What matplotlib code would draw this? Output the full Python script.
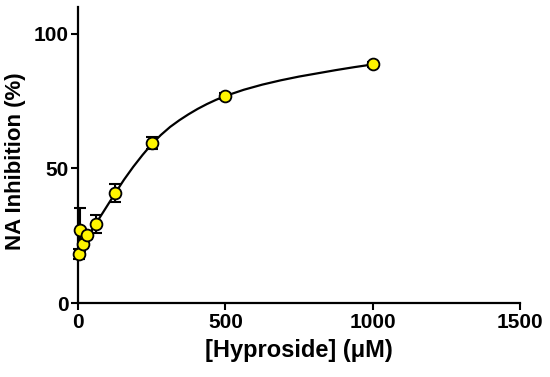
import numpy as np
import matplotlib
matplotlib.use("Agg")
import matplotlib.pyplot as plt

plt.rcParams["font.family"] = ["Liberation Sans", "DejaVu Sans"]
plt.rcParams["font.weight"] = "bold"

# measured points (concentration in uM, inhibition %, SEM)
conc = [3.9, 7.8, 15.6, 31.25, 62.5, 125, 250, 500, 1000]
inhib = [18.2, 27.3, 22.1, 25.2, 29.4, 40.9, 59.3, 76.9, 88.6]
sem = [2.0, 8.0, 1.5, 1.5, 3.3, 3.3, 2.2, 1.0, 0.8]

# fitted curve
fit_x = [3.9, 15.6, 31.25, 46.9, 62.5, 93.75, 125, 156, 187.5, 219, 250,
         281, 312.5, 344, 375, 406, 437.5, 469, 500, 562.5, 625, 687.5,
         750, 812.5, 875, 937.5, 1000]
fit_y = [19.0, 21.5, 24.5, 27.1, 29.8, 35.2, 40.6, 45.8, 50.6, 55.0, 59.0,
         62.4, 65.4, 67.9, 70.1, 72.1, 73.9, 75.5, 76.9, 79.2, 81.1, 82.7,
         84.1, 85.3, 86.5, 87.6, 88.6]

x_ticks = [0, 500, 1000, 1500]
y_ticks = [0, 50, 100]

fig = plt.figure(figsize=(5.5, 3.77), dpi=100)
ax = fig.add_axes([0.1418, 0.196, 0.804, 0.786])

ax.plot(fit_x, fit_y, color="black", lw=1.6, zorder=2,
        solid_joinstyle="round")
ax.errorbar(conc, inhib, yerr=sem, fmt="none", ecolor="black",
            elinewidth=1.5, capsize=4.5, capthick=1.5, zorder=3, clip_on=False)
ax.plot(conc, inhib, "o", ms=8.5, mfc="#FFF500", mec="black", mew=1.3,
        zorder=5, clip_on=False)

ax.set_xlim(0, 1500)
ax.set_ylim(0, 110)
ax.set_xticks(x_ticks)
ax.set_yticks(y_ticks)

for side in ("top", "right"):
    ax.spines[side].set_visible(False)
for side in ("left", "bottom"):
    ax.spines[side].set_linewidth(1.6)

ax.tick_params(direction="out", length=5, width=1.5, labelsize=15, pad=2)
for lab in ax.get_xticklabels() + ax.get_yticklabels():
    lab.set_fontweight("bold")

ax.set_xlabel("[Hyproside] (\u03bcM)", fontsize=17, fontweight="bold", labelpad=5)
ax.set_ylabel("NA Inhibition (%)", fontsize=16, fontweight="bold")
ax.yaxis.set_label_coords(-0.118, 0.48)

fig.savefig("out.png", dpi=100)
